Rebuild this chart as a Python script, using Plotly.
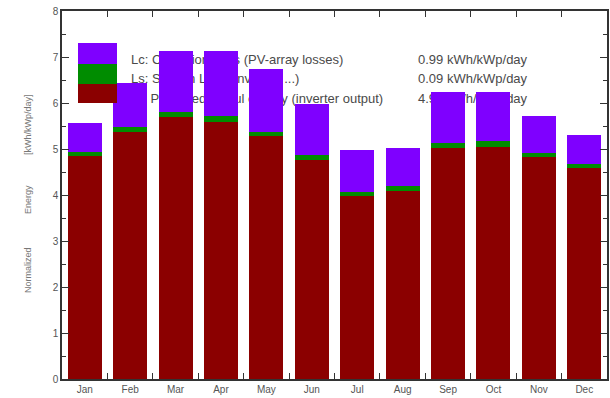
import plotly.graph_objects as go

months = ["Jan", "Feb", "Mar", "Apr", "May", "Jun", "Jul", "Aug", "Sep", "Oct", "Nov", "Dec"]
yf = [4.84, 5.36, 5.69, 5.58, 5.29, 4.77, 3.98, 4.08, 5.02, 5.04, 4.82, 4.58]
ls_loss = [0.09, 0.11, 0.11, 0.14, 0.09, 0.10, 0.09, 0.11, 0.11, 0.14, 0.09, 0.09]
lc_loss = [0.63, 0.96, 1.32, 1.40, 1.37, 1.11, 0.91, 0.84, 1.12, 1.07, 0.81, 0.63]

legend_labels = ["Lc: Collection Loss (PV-array losses)",
                 "Ls: System Loss (inverter, ...)",
                 "Yf: Produced useful energy (inverter output)"]
legend_values = ["0.99 kWh/kWp/day", "0.09 kWh/kWp/day", "4.93 kWh/kWp/day"]

C_LC = "#7F00FF"
C_LS = "#008C00"
C_YF = "#8B0000"

W, H = 610, 398
L, R, T, B = 62, 3, 11, 19
pw, ph = W - L - R, H - T - B

def px(x):
    return (x - L) / pw

def py(y):
    return 1 - (y - T) / ph

fig = go.Figure()
fig.add_bar(x=months, y=yf, marker=dict(color=C_YF, line=dict(width=0)), width=0.75, name="Yf")
fig.add_bar(x=months, y=ls_loss, marker=dict(color=C_LS, line=dict(width=0)), width=0.75, name="Ls")
fig.add_bar(x=months, y=lc_loss, marker=dict(color=C_LC, line=dict(width=0)), width=0.75, name="Lc")

shapes = []
for (y0, y1, c) in [(43, 64, C_LC), (64, 84, C_LS), (84, 103, C_YF)]:
    shapes.append(dict(type="rect", xref="paper", yref="paper",
                       x0=px(78), x1=px(117), y0=py(y1), y1=py(y0),
                       fillcolor=c, line=dict(width=0), layer="above"))
text_y = [58, 77, 97]
FONT = "Liberation Sans, Arial"
for lab, val, yy in zip(legend_labels, legend_values, text_y):
    shapes.append(dict(type="rect", xref="paper", yref="paper",
                       x0=px(128), x1=px(400), y0=py(yy + 7), y1=py(yy - 7),
                       fillcolor="rgba(0,0,0,0)", line=dict(width=0), layer="below",
                       label=dict(text=lab, textposition="middle left", padding=0,
                                  font=dict(family=FONT, size=13, color="#4a4a4a"))))
    shapes.append(dict(type="rect", xref="paper", yref="paper",
                       x0=px(415), x1=px(570), y0=py(yy + 7), y1=py(yy - 7),
                       fillcolor="rgba(0,0,0,0)", line=dict(width=0), layer="below",
                       label=dict(text=val, textposition="middle left", padding=0,
                                  font=dict(family=FONT, size=13, color="#4a4a4a"))))

annotations = []
for txt, yc in [("Normalized", 270), ("Energy", 200), ("[kWh/kWp/day]", 125)]:
    annotations.append(dict(text=txt, xref="paper", yref="paper", x=px(28), y=py(yc),
                            textangle=-90, showarrow=False,
                            font=dict(family=FONT, size=9, color="#777"),
                            xanchor="center", yanchor="middle"))

fig.update_layout(
    width=W, height=H,
    margin=dict(l=L, r=R, t=T, b=B, autoexpand=False),
    barmode="stack",
    showlegend=False,
    plot_bgcolor="white", paper_bgcolor="white",
    shapes=shapes, annotations=annotations,
    font=dict(family=FONT, size=10, color="#555"),
)
fig.update_xaxes(range=[-0.5, 11.5], showline=True, linecolor="#333", linewidth=1.5, mirror="ticks",
                 ticks="inside", tickson="boundaries", ticklen=6, tickcolor="#333", tickwidth=1.2,
                 showgrid=False, automargin=False, tickfont=dict(size=10, color="#555"))
fig.update_yaxes(range=[0, 8], dtick=1, showline=True, linecolor="#333", linewidth=1.5, mirror="ticks",
                 ticks="inside", ticklen=7, tickcolor="#333", tickwidth=1.2, showgrid=False, zeroline=False,
                 automargin=False,
                 minor=dict(ticks="inside", dtick=0.5, ticklen=4, tickcolor="#333"),
                 tickfont=dict(size=10, color="#555"))

fig.write_html("out.html", config={"displayModeBar": False},
               post_script="document.body.style.margin='0';document.body.style.overflow='hidden';")
